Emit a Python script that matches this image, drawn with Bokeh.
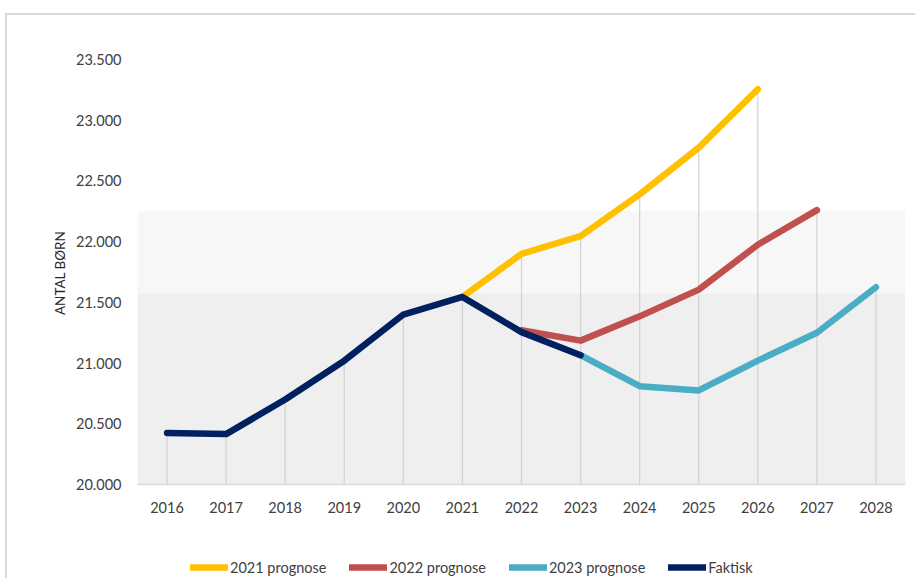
from bokeh.plotting import figure
from bokeh.models import Range1d, FixedTicker, BoxAnnotation, Legend, LegendItem
from bokeh.layouts import column
from bokeh.embed import file_html
from bokeh.resources import INLINE

# ---- data ----
years_actual = [2016, 2017, 2018, 2019, 2020, 2021, 2022, 2023]
actual = [20425, 20415, 20700, 21020, 21400, 21545, 21255, 21065]

years_p2021 = [2021, 2022, 2023, 2024, 2025, 2026]
p2021 = [21545, 21900, 22045, 22390, 22775, 23255]

years_p2022 = [2022, 2023, 2024, 2025, 2026, 2027]
p2022 = [21270, 21185, 21385, 21605, 21975, 22260]

years_p2023 = [2023, 2024, 2025, 2026, 2027, 2028]
p2023 = [21065, 20810, 20775, 21020, 21250, 21625]

x_ticks = [2016, 2017, 2018, 2019, 2020, 2021, 2022, 2023, 2024, 2025, 2026, 2027, 2028]
y_ticks = [20000, 20500, 21000, 21500, 22000, 22500, 23000, 23500]
y_tick_labels = ["20.000", "20.500", "21.000", "21.500", "22.000", "22.500", "23.000", "23.500"]

series_names = ["2021 prognose", "2022 prognose", "2023 prognose", "Faktisk"]
colors = ["#FFC000", "#C0504D", "#4BACC6", "#002060"]

FONT = "Lato"
TXT = "#404040"
W = 908

p = figure(width=W, height=505, output_backend="svg", toolbar_location=None,
           x_range=Range1d(2015.5, 2028.5), y_range=Range1d(20000, 23657),
           min_border_left=130, min_border_right=10, min_border_top=25, min_border_bottom=36)
p.outline_line_color = None
p.xgrid.visible = False
p.ygrid.visible = False

# background bands
p.add_layout(BoxAnnotation(bottom=21573, top=22250, fill_color="#f7f7f7", fill_alpha=1, line_color=None, level="underlay"))
p.add_layout(BoxAnnotation(top=21573, fill_color="#efefef", fill_alpha=1, line_color=None, level="underlay"))

# drop lines: from each year's highest value down to the axis
all_pts = {}
for xs, ys in [(years_actual, actual), (years_p2021, p2021), (years_p2022, p2022), (years_p2023, p2023)]:
    for x, y in zip(xs, ys):
        all_pts[x] = max(all_pts.get(x, y), y)
dx = sorted(all_pts)
dy = [all_pts[x] for x in dx]
p.segment(x0=dx, y0=[y_ticks[0]] * len(dx), x1=dx, y1=dy, line_color="#d4d4d4", line_width=1.3)

series = [(years_p2021, p2021), (years_p2022, p2022), (years_p2023, p2023), (years_actual, actual)]
for (xs, ys), c in zip(series, colors):
    p.line(xs, ys, line_color=c, line_width=6.5, line_cap="round", line_join="round")

# axes
p.xaxis.ticker = FixedTicker(ticks=x_ticks)
p.xaxis.axis_line_color = "#d9d9d9"
p.xaxis.axis_line_width = 1.5
p.xaxis.major_tick_line_color = None
p.xaxis.minor_tick_line_color = None
p.xaxis.major_label_standoff = 11
p.xaxis.major_label_text_font = FONT
p.xaxis.major_label_text_font_size = "14.5px"
p.xaxis.major_label_text_color = TXT

p.yaxis.ticker = FixedTicker(ticks=y_ticks)
p.yaxis.major_label_overrides = {t: l for t, l in zip(y_ticks, y_tick_labels)}
p.yaxis.axis_line_color = None
p.yaxis.major_tick_line_color = None
p.yaxis.minor_tick_line_color = None
p.yaxis.major_label_standoff = 10
p.yaxis.major_label_text_font = FONT
p.yaxis.major_label_text_font_size = "14.5px"
p.yaxis.major_label_text_color = TXT
p.yaxis.axis_label = "ANTAL BØRN" + "\u00a0" * 6
p.yaxis.axis_label_text_font = FONT
p.yaxis.axis_label_text_font_style = "normal"
p.yaxis.axis_label_text_font_size = "13.5px"
p.yaxis.axis_label_text_color = "#262626"
p.yaxis.axis_label_standoff = 5

# legend strip (its lines are out of view; only the legend shows)
lg = figure(width=W, height=58, output_backend="svg", toolbar_location=None,
            x_range=Range1d(0, 1), y_range=Range1d(0, 1),
            min_border_left=0, min_border_right=0, min_border_top=0, min_border_bottom=0)
lg.axis.visible = False
lg.grid.visible = False
lg.outline_line_color = None
items = []
for (xs, ys), n, c in zip(series, series_names, colors):
    r = lg.line(xs, ys, line_color=c, line_width=6.5, line_cap="round")
    items.append(LegendItem(label=n, renderers=[r]))
legend = Legend(items=items, orientation="horizontal", location=(53, 1), spacing=23, label_standoff=2,
                glyph_width=38, glyph_height=20, padding=0, margin=0,
                border_line_color=None, background_fill_alpha=0,
                label_text_font=FONT, label_text_font_size="14.5px", label_text_color=TXT)
lg.add_layout(legend, "center")

layout = column(p, lg, styles={"margin-top": "13px", "margin-left": "5px",
                               "border-top": "2px solid #d9d9d9", "border-left": "2px solid #d9d9d9"})

open("out.html", "w").write(file_html(layout, INLINE))
